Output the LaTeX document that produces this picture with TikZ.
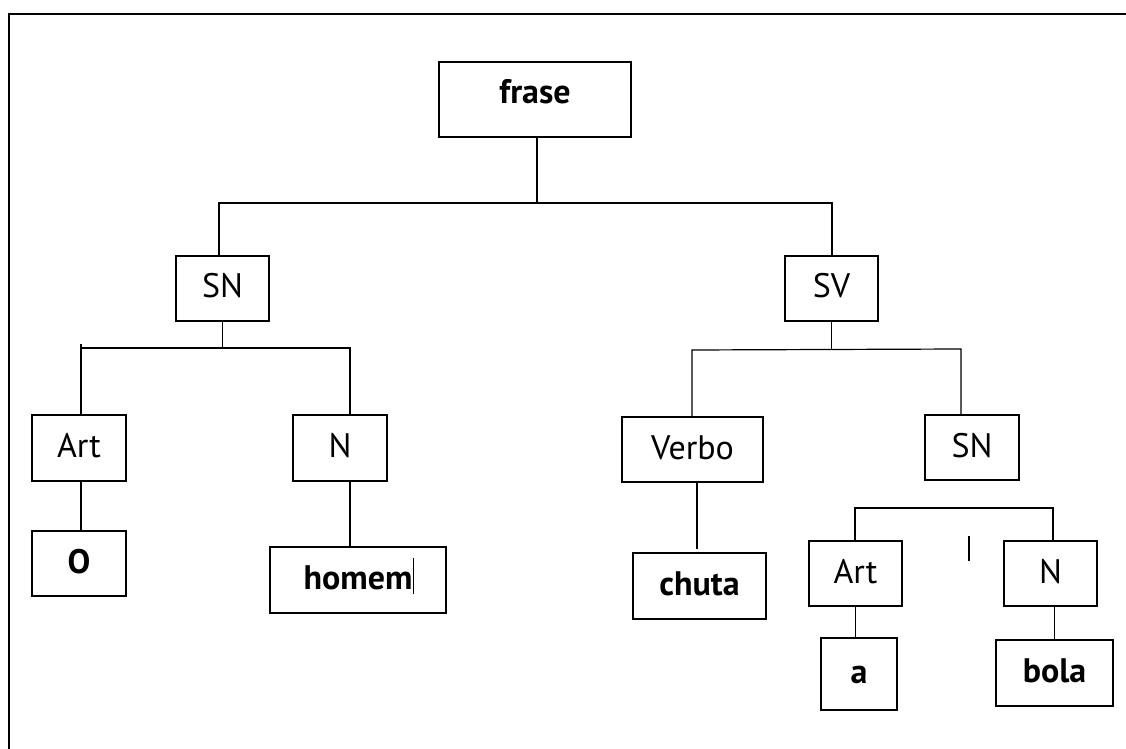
\documentclass[tikz,border=0pt]{standalone}
\usepackage{fontspec}
\setmainfont{PT Sans}
\begin{document}
\begin{tikzpicture}[x=0.5pt,y=-0.5pt,
  bx/.style 2 args={draw, line width=0.75pt, inner sep=0pt,
    minimum width=#1*0.5pt, minimum height=#2*0.5pt,
    text height=9.5pt, text depth=0pt, font=\fontsize{17}{20}\selectfont},
  wd/.style={font=\fontsize{17}{20}\selectfont\bfseries},
  ln/.style={line width=0.6pt},
  frameline/.style={line width=1pt}]
\useasboundingbox (0,0) rectangle (1126,749);
% outer frame (cut by the page)
\draw[frameline] (1126,14) -- (9,14) -- (9,749);

% nodes
\node[bx={192}{75}, wd, text depth=5pt] (frase) at (535,99.5) {frase};
\node[bx={93}{65}] (SNa) at (222.5,288.5) {SN};
\node[bx={93}{65}] (SV) at (831.5,288.5) {SV};
\node[bx={94}{66}] (Arta) at (79,448) {Art};
\node[bx={94}{66}] (Na) at (340,448) {N};
\node[bx={94}{65}, wd] (Oa) at (79,563.5) {O};
\node[bx={176}{66}, wd] (homem) at (358,580) {homem};
\node[bx={141}{65}] (Verbo) at (692.5,449.5) {Verbo};
\node[bx={133}{66}, wd] (chuta) at (699.5,586) {chuta};
\node[bx={94}{65}] (SNb) at (972,447.5) {SN};
\node[bx={93}{65}] (Artb) at (855.5,573.5) {Art};
\node[bx={93}{65}] (Nb) at (1050.5,573.5) {N};
\node[bx={76}{72}, wd] (ab) at (859,674) {a};
\node[bx={117}{66}, wd] (bola) at (1054.5,673) {bola};

% junction coordinates
\coordinate (t0) at (537,203);
\coordinate (tL) at (219,203);
\coordinate (tR) at (832,203);
\coordinate (aL) at (81,348);
\coordinate (aLt) at (81,344);
\coordinate (aR) at (350,348);
\coordinate (bL) at (692,350);
\coordinate (bR) at (961,349);
\coordinate (vx) at (697,549);
\coordinate (cL) at (855,508);
\coordinate (cR) at (1053,508);

% connectors
\draw[ln] (t0 |- frase.south) -- (t0);
\draw[ln] (tL |- SNa.north) -- (tL) -- (tR) -- (tR |- SV.north);

\draw[ln] (SNa.south) -- (SNa.south |- aL);
\draw[ln] (aLt) -- (aLt |- Arta.north);
\draw[ln] (aL) -- (aR) -- (aR |- Na.north);
\draw[ln] (aL |- Arta.south) -- (aL |- Oa.north);
\draw[ln] (aR |- Na.south) -- (aR |- homem.north);

\draw[ln] (SV.south) -- (SV.south |- bR);
\draw[ln] (bL |- Verbo.north) -- (bL) -- (bR) -- (bR |- SNb.north);
\draw[ln] (vx |- Verbo.south) -- (vx);

\draw[ln] (cL |- Artb.north) -- (cL) -- (cR) -- (cR |- Nb.north);
\draw[ln] (Artb.south) -- (Artb.south |- ab.north);
\draw[ln] (bola.north |- Nb.south) -- (bola.north);

% stray marks
\draw[line width=0.7pt] (969,536) -- (969,561);
\draw[line width=0.4pt] (413,558) -- (413,594);
\end{tikzpicture}
\end{document}
